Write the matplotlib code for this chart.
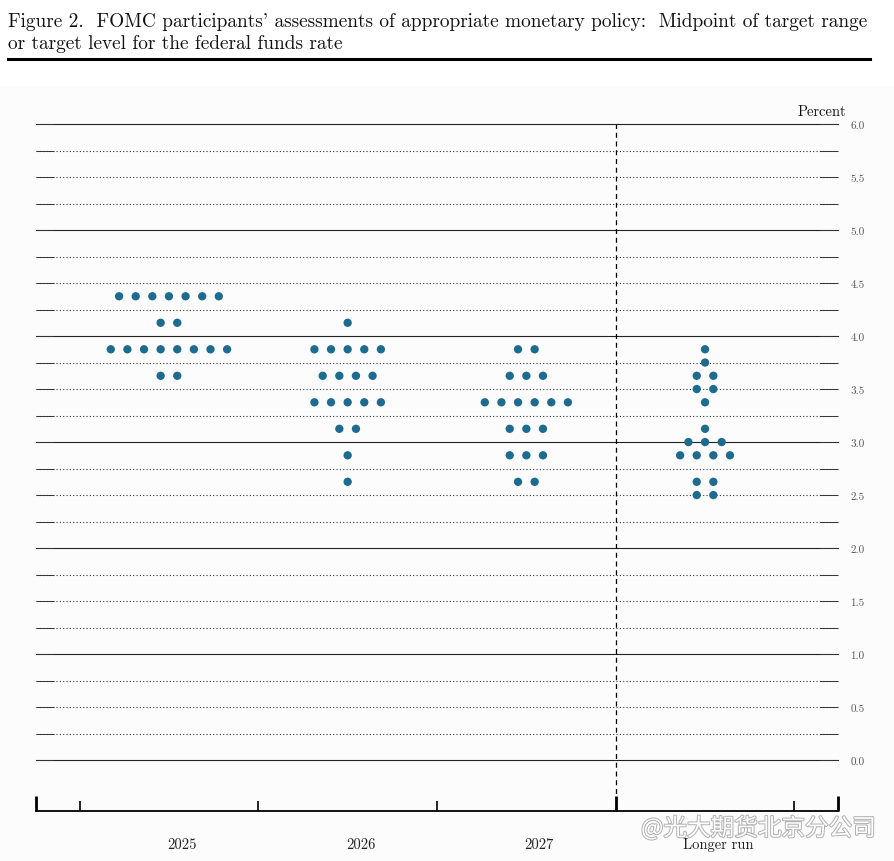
import numpy as np
import matplotlib.pyplot as plt
from matplotlib.lines import Line2D
from matplotlib.patches import Rectangle
import matplotlib.patheffects as pe

# dot plot data: midpoint rate and number of participants at that rate
years = ["2025", "2026", "2027", "Longer run"]

rate_2025 = [4.375, 4.125, 3.875, 3.625]
count_2025 = [7, 2, 8, 2]

rate_2026 = [4.125, 3.875, 3.625, 3.375, 3.125, 2.875, 2.625]
count_2026 = [1, 5, 4, 5, 2, 1, 1]

rate_2027 = [3.875, 3.625, 3.375, 3.125, 2.875, 2.625]
count_2027 = [2, 3, 6, 3, 3, 2]

rate_lr = [3.875, 3.75, 3.625, 3.5, 3.375, 3.125, 3.0, 2.875, 2.625, 2.5]
count_lr = [1, 1, 2, 2, 1, 1, 3, 4, 2, 2]

rates = [rate_2025, rate_2026, rate_2027, rate_lr]
counts = [count_2025, count_2026, count_2027, count_lr]

dot_color = "#1d6b8e"
serif = ["cmr10", "DejaVu Serif"]

fig = plt.figure(figsize=(8.95, 8.62), dpi=100, facecolor="white")
fig.patches.append(Rectangle((0, 0), 1, 1 - 87 / 862, transform=fig.transFigure,
                             facecolor="#fcfcfc", edgecolor="none", zorder=-5))

ax = fig.add_axes([36 / 895, 1 - 812 / 862, (838 - 36) / 895, (812 - 125) / 862])
ax.set_facecolor("none")
ax.set_xlim(-0.744, 3.744)
ax.set_ylim(-0.48, 6.0)

# horizontal guide lines
for lvl in np.arange(0, 6.01, 0.25):
    if lvl % 1 == 0:
        ax.axhline(lvl, color="#222222", lw=0.8, zorder=1, clip_on=False)
    else:
        ax.axhline(lvl, color="#333333", lw=0.8, ls=(0, (1, 2)), zorder=1)

ax.plot([2.5, 2.5], [-0.48, 6.0], color="black", lw=0.9, ls=(0, (4, 3)), zorder=2, clip_on=False)

# dots
step = 0.093
for i, (rr, cc) in enumerate(zip(rates, counts)):
    for r, n in zip(rr, cc):
        xs = i + (np.arange(n) - (n - 1) / 2) * step
        ax.scatter(xs, [r] * n, s=36, color=dot_color, edgecolors="none", zorder=3)

for side in ["left", "right", "top"]:
    ax.spines[side].set_visible(False)
ax.spines["bottom"].set_linewidth(1.3)

# y axis ticks on both sides, labels on the right
ax.set_yticks(np.arange(0, 6.01, 0.5))
ax.set_yticks(np.arange(0.25, 6.0, 0.5), minor=True)
ax.yaxis.set_major_formatter(plt.FormatStrFormatter("%.1f"))
ax.tick_params(axis="y", which="both", direction="in", length=13, width=0.7,
               color="#333333", left=True, right=True, labelleft=False, labelright=True,
               pad=9, labelsize=8, labelcolor="#555555")
for lab in ax.get_yticklabels():
    lab.set_family(serif)

# x axis ticks
ax.set_xticks([-0.744, 2.5, 3.744])
ax.set_xticks([-0.5, 0.5, 1.5, 3.5], minor=True)
ax.tick_params(axis="x", which="major", direction="in", length=11, width=2, labelbottom=False)
ax.tick_params(axis="x", which="minor", direction="in", length=7, width=1.2)

for i, y in enumerate(years):
    ax.text(i + 0.072, -0.48 - 26 / 106, y, ha="center", va="top",
            fontsize=10.5, family=serif, color="#222222")

fig.text(846 / 895, 1 - 112 / 862, "Percent", ha="right", va="center",
         fontsize=10.5, family=serif, color="#111111")

# title
fig.text(8 / 895, 1 - 22 / 862,
         "Figure 2.  FOMC participants' assessments of appropriate monetary policy:  Midpoint of target range",
         ha="left", va="center", fontsize=13.9, family=serif, color="#111111")
fig.text(8 / 895, 1 - 44 / 862, "or target level for the federal funds rate",
         ha="left", va="center", fontsize=13.9, family=serif, color="#111111")
fig.lines.append(Line2D([8 / 895, 870 / 895], [1 - 60 / 862] * 2, transform=fig.transFigure,
                        color="black", lw=2.2))

# watermark
fig.text(876 / 895, 1 - 829 / 862, "@光大期货北京分公司", ha="right", va="center",
         fontsize=17, family=["Noto Sans CJK SC", "DejaVu Sans"], color="white",
         path_effects=[pe.withStroke(linewidth=1.4, foreground="#b0b0b0")], zorder=10)

fig.savefig("out.png", dpi=100, facecolor=fig.get_facecolor())
